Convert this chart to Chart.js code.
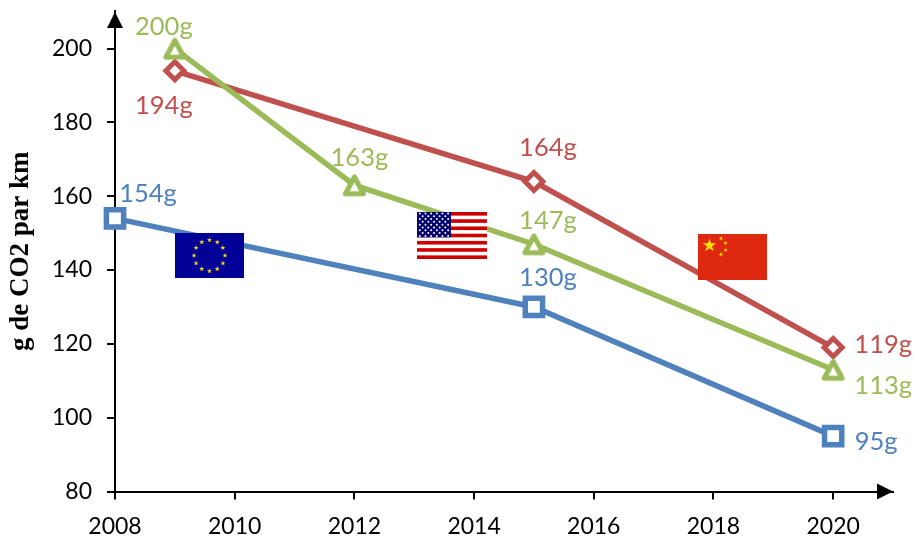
<!DOCTYPE html>
<html><head><meta charset="utf-8">
<style>html,body{margin:0;padding:0;background:#fff}canvas{display:block}</style>
<script src="https://cdn.jsdelivr.net/npm/chart.js@4/dist/chart.umd.min.js"></script>
</head><body><canvas id="c" width="916" height="539"></canvas>
<script>
const yearsEU = [2008, 2015, 2020];
const valuesEU = [154, 130, 95];
const yearsUS = [2009, 2012, 2015, 2020];
const valuesUS = [200, 163, 147, 113];
const yearsCN = [2009, 2015, 2020];
const valuesCN = [194, 164, 119];
const unit = 'g';
const yTitle = 'g de CO2 par km';
const BLUE = '#4F81BD', RED = '#C0504D', GREEN = '#9BBB59';
const labelFont = '25.5px Lato, Carlito, sans-serif';
const offsetsEU = [[33, -25], [14, -29], [43, 6]];
const offsetsUS = [[-11, -22], [5, -27], [14, -23], [50, 16]];
const offsetsCN = [[-11, 35], [14, -34], [50, -3]];

function pts(xs, ys) { return xs.map((x, i) => ({ x, y: ys[i] })); }
function triangleMarker(color) {
  const m = document.createElement('canvas');
  m.width = 25; m.height = 25;
  const g = m.getContext('2d');
  g.beginPath(); g.moveTo(12.5, 4.2); g.lineTo(3.5, 21); g.lineTo(21.5, 21); g.closePath();
  g.fillStyle = '#fff'; g.fill();
  g.strokeStyle = color; g.lineWidth = 5; g.lineJoin = 'round'; g.stroke();
  return m;
}
function star(ctx, cx, cy, r, rot, color) {
  ctx.beginPath();
  for (let i = 0; i < 10; i++) {
    const a = rot - Math.PI / 2 + i * Math.PI / 5, q = i % 2 ? r * 0.382 : r;
    ctx.lineTo(cx + q * Math.cos(a), cy + q * Math.sin(a));
  }
  ctx.closePath(); ctx.fillStyle = color; ctx.fill();
}
function flagEU(ctx, x, y, w, h) {
  ctx.fillStyle = '#000096'; ctx.fillRect(x, y, w, h);
  for (let i = 0; i < 12; i++) {
    const a = i * Math.PI / 6;
    star(ctx, x + w / 2 + 15.5 * Math.sin(a), y + h / 2 - 15.5 * Math.cos(a), 2.8, 0, '#FFD617');
  }
}
function flagUS(ctx, x, y, w, h) {
  ctx.fillStyle = '#fff'; ctx.fillRect(x, y, w, h);
  ctx.fillStyle = '#CC0000';
  const sh = h / 13;
  for (let i = 0; i < 13; i += 2) ctx.fillRect(x, y + i * sh, w, sh);
  const cw = w * 0.485, ch = sh * 7;
  ctx.fillStyle = '#00006E'; ctx.fillRect(x, y, cw, ch);
  ctx.fillStyle = '#fff';
  for (let r = 0; r < 9; r++) {
    const n = r % 2 ? 5 : 6;
    for (let c = 0; c < n; c++) {
      const sx = x + (c + (r % 2 ? 1 : 0.5)) * cw / 6, sy = y + (r + 0.5) * ch / 9;
      ctx.beginPath(); ctx.arc(sx, sy, 1, 0, Math.PI * 2); ctx.fill();
    }
  }
}
function flagCN(ctx, x, y, w, h) {
  ctx.fillStyle = '#DE2910'; ctx.fillRect(x, y, w, h);
  star(ctx, x + 11.5, y + 11.5, 7, 0, '#FFDE00');
  [[23, 4.5, 0.6], [27.5, 9, 1.0], [27.5, 16, 0.2], [23, 20.5, 0.8]].forEach(s =>
    star(ctx, x + s[0], y + s[1], 2.4, s[2], '#FFDE00'));
}
const decor = {
  id: 'decor',
  afterDatasetsDraw(chart) {
    const ctx = chart.ctx, xs = chart.scales.x, ys = chart.scales.y;
    ctx.save();
    flagEU(ctx, 175, 233, 69, 45);
    flagUS(ctx, 417, 212, 70, 47);
    flagCN(ctx, 698, 234, 69, 46);
    // axis arrowheads
    const ax = xs.getPixelForValue(xs.min), ay = ys.getPixelForValue(ys.min);
    ctx.fillStyle = '#000';
    ctx.beginPath();
    ctx.moveTo(ax, 12); ctx.lineTo(ax - 8, 28); ctx.lineTo(ax + 8, 28); ctx.closePath(); ctx.fill();
    ctx.beginPath();
    ctx.moveTo(893, ay); ctx.lineTo(877, ay - 8); ctx.lineTo(877, ay + 8); ctx.closePath(); ctx.fill();
    // value labels
    ctx.font = labelFont; ctx.textAlign = 'center'; ctx.textBaseline = 'middle';
    chart.data.datasets.forEach(ds => {
      ds.data.forEach((p, i) => {
        ctx.fillStyle = ds.borderColor;
        const o = ds.labelOffsets[i];
        ctx.fillText(p.y + unit, xs.getPixelForValue(p.x) + o[0], ys.getPixelForValue(p.y) + o[1]);
      });
    });
    ctx.restore();
  }
};
Chart.defaults.animation = false;
new Chart(document.getElementById('c'), {
  type: 'line',
  data: {
    datasets: [
      { label: 'UE', data: pts(yearsEU, valuesEU), labelOffsets: offsetsEU, borderColor: BLUE, pointStyle: 'rect', pointRadius: 12.2, pointBorderWidth: 5.5 },
      { label: 'USA', data: pts(yearsUS, valuesUS), labelOffsets: offsetsUS, borderColor: GREEN, pointStyle: triangleMarker(GREEN), pointRadius: 12, pointBorderWidth: 5 },
      { label: 'Chine', data: pts(yearsCN, valuesCN), labelOffsets: offsetsCN, borderColor: RED, pointStyle: 'rectRot', pointRadius: 9, pointBorderWidth: 5 }
    ].map(d => Object.assign(d, {
      borderWidth: 5.5, tension: 0, clip: false,
      pointBackgroundColor: '#fff', pointBorderColor: d.borderColor, fill: false
    }))
  },
  plugins: [decor],
  options: {
    responsive: false,
    layout: { autoPadding: false, padding: { top: 11, right: 23, left: 0, bottom: 0 } },
    plugins: { legend: { display: false }, tooltip: { enabled: false } },
    scales: {
      x: {
        type: 'linear', min: 2008, max: 2021,
        afterFit: s => { s.height = 47.5; s.paddingLeft = 0; s.paddingRight = 0; },
        border: { color: '#000', width: 2 },
        grid: { drawOnChartArea: false, drawTicks: true, tickLength: 8, color: '#000', lineWidth: 2 },
        ticks: { stepSize: 2, includeBounds: false, maxRotation: 0, padding: 13, color: '#000',
          font: { family: 'Lato', size: 23 }, callback: v => String(v) }
      },
      y: {
        min: 80, max: 210.2,
        afterFit: s => { s.width = 115; s.paddingTop = 0; s.paddingBottom = 0; },
        border: { color: '#000', width: 2 },
        grid: { drawOnChartArea: false, drawTicks: true, tickLength: 8, color: '#000', lineWidth: 2 },
        ticks: { stepSize: 20, includeBounds: false, padding: 15, color: '#000', font: { family: 'Lato', size: 23 } },
        title: { display: true, text: yTitle, color: '#000', padding: { top: 5, bottom: 0 },
          font: { family: 'Liberation Serif', size: 27, weight: 'bold' } }
      }
    }
  }
});
</script></body></html>
